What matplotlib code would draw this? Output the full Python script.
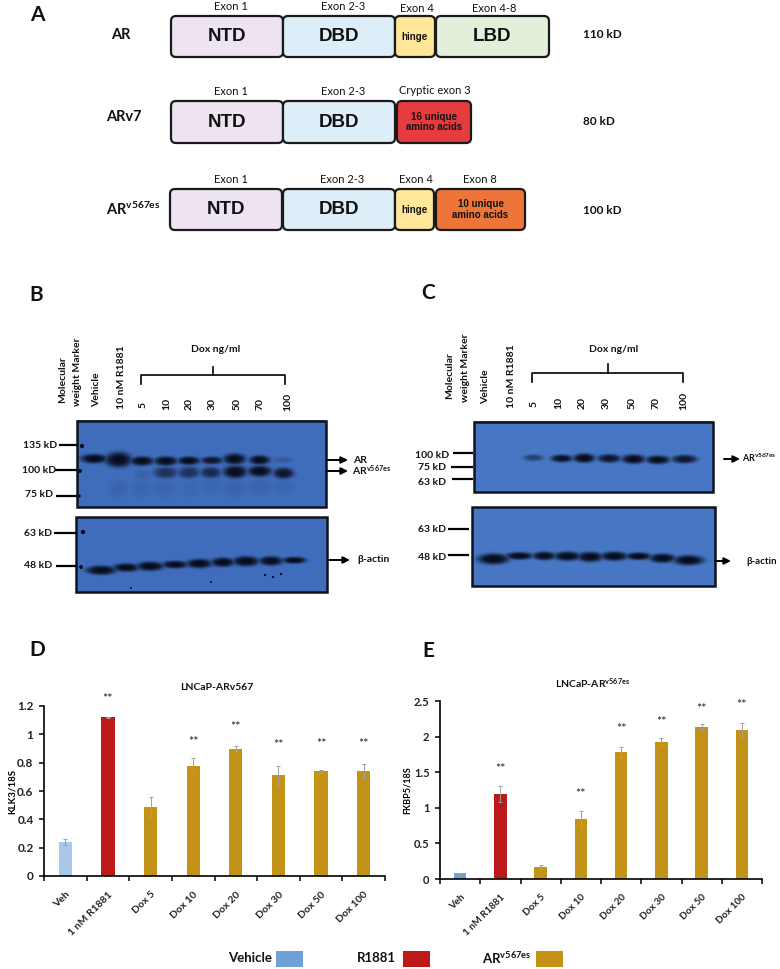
import numpy as np
import matplotlib
matplotlib.use("Agg")
import matplotlib.pyplot as plt
from matplotlib.patches import FancyBboxPatch, Rectangle
from matplotlib.ticker import FixedLocator

plt.rcParams['font.family'] = ['Lato', 'DejaVu Sans']
plt.rcParams['mathtext.default'] = 'regular'

# bar charts
categories = ["Veh", "1 nM R1881", "Dox 5", "Dox 10", "Dox 20", "Dox 30", "Dox 50", "Dox 100"]
klk3 = [0.24, 1.12, 0.49, 0.78, 0.90, 0.71, 0.74, 0.74]
klk3_err = [0.02, 0.005, 0.07, 0.055, 0.02, 0.065, 0.01, 0.05]
klk3_stars = [None, 1.266, None, 0.965, 1.073, 0.944, 0.948, 0.948]
fkbp5 = [0.08, 1.19, 0.17, 0.84, 1.79, 1.93, 2.13, 2.09]
fkbp5_err = [0.01, 0.11, 0.03, 0.11, 0.07, 0.05, 0.04, 0.10]
fkbp5_stars = [None, 1.58, None, 1.23, 2.14, 2.24, 2.42, 2.48]

b_ar_x = [282, 355, 425, 497, 566, 635, 703, 778, 848]
b_ar_y = [567, 570, 574, 574, 573, 572, 568, 571, 571]
b_ar_w = [34, 34, 30, 30, 28, 28, 28, 26, 26]
b_ar_h = [11, 18, 11, 11, 10, 9, 13, 11, 7]
b_ar_d = [1, 1, 1, 1, 1, 0.9, 1, 1, 0.2]
b_v_x = [425, 497, 566, 632, 705, 778, 850]
b_v_y = [615, 608, 608, 608, 606, 604, 610]
b_v_w = [20, 30, 28, 26, 30, 30, 26]
b_v_h = [12, 14, 14, 13, 15, 13, 13]
b_v_d = [0.12, 0.6, 0.6, 0.7, 1, 1, 0.9]
b_smear_x = [355, 425, 497, 566, 635, 705, 778, 850]
b_smear_y = [655, 655, 655, 655, 650, 655, 650, 650]
b_smear_w = [24, 26, 30, 28, 26, 30, 30, 26]
b_smear_h = [22, 22, 22, 22, 22, 22, 22, 18]
b_smear_d = [0.1, 0.07, 0.08, 0.06, 0.07, 0.1, 0.1, 0.08]
b_actin_x = [303, 378, 450, 525, 597, 668, 737, 812, 882]
b_actin_y = [900, 892, 888, 883, 880, 876, 873, 872, 870]
b_actin_w = [38, 33, 35, 33, 33, 30, 33, 30, 30]
b_actin_h = [11, 10, 11, 9, 11, 11, 12, 11, 8]
c_v_x = [400, 485, 552, 627, 700, 773, 853]
c_v_y = [564, 566, 565, 566, 568, 570, 568]
c_v_w = [25, 28, 28, 30, 30, 30, 32]
c_v_h = [8, 9, 11, 10, 11, 10, 10]
c_v_d = [0.5, 0.95, 1, 0.9, 1, 1, 0.9]
c_actin_x = [280, 358, 432, 502, 570, 642, 715, 787, 865]
c_actin_y = [866, 857, 857, 858, 860, 858, 858, 864, 870]
c_actin_w = [40, 35, 30, 35, 33, 35, 33, 33, 38]
c_actin_h = [13, 9, 10, 11, 12, 11, 9, 11, 12]

GOLD = '#C29316'
RED = '#BC1A1A'
BLOT = np.array([0.25, 0.43, 0.74])
INK = np.array([0.03, 0.05, 0.12])

fig = plt.figure(figsize=(7.8, 9.69), dpi=100)
page = fig.add_axes([0, 0, 1, 1])
page.set_xlim(0, 780)
page.set_ylim(969, 0)
page.axis('off')
page.set_autoscale_on(False)


def label(x, y, s, size=7.5, weight='normal', **kw):
    kw.setdefault('ha', 'center')
    kw.setdefault('va', 'center')
    page.text(x, y, s, fontsize=size, fontweight=weight, color='#111111', **kw)


def domain(x0, x1, y0, y1, color, s, size=13.5):
    page.add_patch(FancyBboxPatch((x0 + 5, y0 + 5), x1 - x0 - 10, y1 - y0 - 10, boxstyle='round,pad=5,rounding_size=5',
                                  fc=color, ec='#1a1a1a', lw=1.6))
    page.text((x0 + x1) / 2, (y0 + y1) / 2, s, fontsize=size, fontweight='bold', family='Liberation Sans',
              ha='center', va='center', color='#111111', linespacing=1.05)


def blot(box, lanes, color=BLOT, spots=None):
    # lanes are in the coordinates of a 3x crop with an offset, converted here
    x0, x1, y0, y1 = box
    xs = np.arange(x0, x1, 0.5)
    ys = np.arange(y0, y1, 0.5)
    xx, yy = np.meshgrid(xs, ys)
    dark = np.zeros_like(xx)
    for (ox, lx, ly, lw, lh, ld) in lanes:
        for i in range(len(lx)):
            cx = ox + lx[i] / 3
            cy = 270 + ly[i] / 3
            r = ((xx - cx) / (lw[i] * 1.2 / 3)) ** 2 + ((yy - cy) / (lh[i] * 1.25 / 3)) ** 2
            dark = np.maximum(dark, ld[i] * np.exp(-r ** 1.8))
    img = color + (INK - color) * dark[..., None]
    page.imshow(img, extent=(x0, x1, y1, y0), aspect='auto', interpolation='bilinear', zorder=1)
    page.add_patch(Rectangle((x0, y0), x1 - x0, y1 - y0, fc='none', ec='#10131c', lw=1.8, zorder=2))
    if spots:
        page.scatter([s[0] for s in spots], [s[1] for s in spots], s=[s[2] for s in spots], color=INK,
                     lw=0, zorder=2)


def arrow(x0, x1, y):
    page.annotate('', xy=(x1, y), xytext=(x0, y),
                  arrowprops=dict(arrowstyle='-|>', color='black', lw=1.4, mutation_scale=10, shrinkA=0, shrinkB=0))


def rule(x0, x1, y, lw=1.6):
    page.plot([x0, x1], [y, y], color='black', lw=lw, solid_capstyle='butt', zorder=3)


def bracket(x0, x1, y, top, drop):
    page.plot([x0, x0, x1, x1], [y + drop, y, y, y + drop], color='black', lw=1.2)
    page.plot([(x0 + x1) / 2] * 2, [top, y], color='black', lw=1.2)


# panel letters
for x, y, s in [(37, 15, 'A'), (36, 295, 'B'), (428, 293, 'C'), (37, 650, 'D'), (428, 651, 'E')]:
    label(x, y, s, size=15, weight='bold')

# panel A
domain(171, 283, 16, 57, '#EEE3F0', 'NTD')
domain(283, 395, 16, 57, '#DDEEF8', 'DBD')
domain(395, 435, 16, 57, '#FFE699', 'hinge', 7)
domain(436, 549, 16, 57, '#E2EFDA', 'LBD')
domain(171, 283, 101, 143, '#EEE3F0', 'NTD')
domain(283, 395, 101, 143, '#DDEEF8', 'DBD')
domain(397, 471, 101, 143, '#E63B3F', '16 unique\namino acids', 7)
domain(170, 282, 189, 230, '#EEE3F0', 'NTD')
domain(283, 395, 189, 230, '#DDEEF8', 'DBD')
domain(395, 434, 189, 230, '#FFE699', 'hinge', 7)
domain(436, 525, 189, 230, '#ED7539', '10 unique\namino acids', 7)

for x, y, s in [(231, 6, 'Exon 1'), (343, 6, 'Exon 2-3'), (417, 8, 'Exon 4'), (494, 8, 'Exon 4-8'),
                (231, 91, 'Exon 1'), (343, 91, 'Exon 2-3'), (435, 90, 'Cryptic exon 3'),
                (231, 179, 'Exon 1'), (342, 179, 'Exon 2-3'), (416, 179, 'Exon 4'), (480, 179, 'Exon 8')]:
    label(x, y, s, size=8)
label(121, 35, 'AR', size=10.5, weight='bold')
label(124, 117, 'ARv7', size=10.5, weight='bold')
label(133, 209, 'AR$^{v567es}$', size=10.5, weight='bold')
label(602, 34, '110 kD', size=8.5, weight='bold')
label(599, 121, '80 kD', size=8.5, weight='bold')
label(602, 210, '100 kD', size=8.5, weight='bold')

# panel B
blot((77, 326, 421, 507), [(0, b_smear_x, b_smear_y, b_smear_w, b_smear_h, b_smear_d),
                           (0, b_ar_x, b_ar_y, b_ar_w, b_ar_h, b_ar_d), (0, b_v_x, b_v_y, b_v_w, b_v_h, b_v_d)],
     spots=[(82, 446, 10), (80, 471, 8), (79, 496, 6)])
blot((76, 327, 517, 592), [(0, b_actin_x, b_actin_y, b_actin_w, b_actin_h, [1] * 9)],
     spots=[(83, 532, 10), (81, 567, 8), (265, 575, 3), (273, 577, 3), (281, 574, 3), (211, 582, 2), (131, 588, 2)])
for x, y, s in [(63, 380, 'Molecular'), (77, 372, 'weight Marker'), (97, 390, 'Vehicle'), (121, 377, '10 nM R1881'),
                (143, 405, '5'), (167, 404, '10'), (189, 404, '20'), (212, 404, '30'), (237, 404, '50'),
                (260, 404, '70'), (288, 402, '100')]:
    label(x, y, s, rotation=90, weight='bold', size=7.5)
label(216, 349, 'Dox ng/ml', size=7.5, weight='bold')
bracket(141, 285, 375, 367, 9)
for y, x0, s, sx, sy in [(445, 59, '135 kD', 40, 446), (470, 55, '100 kD', 39, 470), (496, 56, '75 kD', 39, 494),
                         (533, 54, '63 kD', 38, 534), (566, 56, '48 kD', 38, 566)]:
    rule(x0, 77, y)
    label(sx, sy, s, weight='bold', size=7.5)
arrow(326, 348, 460)
arrow(326, 348, 471)
arrow(328, 350, 560)
label(360, 460, 'AR', size=7.5, weight='bold')
label(372, 471, 'AR$^{v567es}$', size=7.5, weight='bold')
label(374, 560, 'β-actin', size=7.5, weight='bold')

# panel C
blot((474, 713, 422, 492), [(400, c_v_x, c_v_y, c_v_w, c_v_h, c_v_d)], color=np.array([0.28, 0.47, 0.77]))
blot((472, 715, 507, 586), [(400, c_actin_x, c_actin_y, c_actin_w, c_actin_h, [1] * 9)],
     color=np.array([0.28, 0.47, 0.77]))
for x, y, s in [(450, 376, 'Molecular'), (465, 368, 'weight Marker'), (486, 387, 'Vehicle'), (511, 376, '10 nM R1881'),
                (534, 404, '5'), (559, 403, '10'), (582, 403, '20'), (606, 403, '30'), (632, 403, '50'),
                (656, 403, '70'), (684, 401, '100')]:
    label(x, y, s, rotation=90, weight='bold', size=7.5)
label(614, 350, 'Dox ng/ml', size=7.5, weight='bold')
bracket(532, 683, 373, 364, 9)
for y, x0, x1, s, sy in [(453, 453, 473, '100 kD', 455), (467, 451, 473, '75 kD', 467), (479, 452, 473, '63 kD', 482),
                         (529, 448, 469, '63 kD', 530), (555, 448, 469, '48 kD', 557)]:
    rule(x0, x1, y)
    label(432, sy, s, weight='bold', size=7.5)
arrow(724, 740, 459)
arrow(715, 731, 561)
label(759, 458, 'AR$^{v567es}$', size=6.5, weight='bold')
label(762, 561, 'β-actin', size=7, weight='bold')


def bars(rect, values, errs, stars, ymax, yticks, ticklabels, ylabel, veh_color, size, labelpad):
    ax = fig.add_axes([rect[0] / 780, 1 - rect[3] / 969, (rect[1] - rect[0]) / 780, (rect[3] - rect[2]) / 969])
    ax.patch.set_alpha(0)
    x = np.arange(len(values)) + 0.5
    colors = [veh_color, RED] + [GOLD] * (len(values) - 2)
    ax.bar(x, values, width=0.31, color=colors, yerr=errs,
           error_kw=dict(ecolor='#a0a0a0', elinewidth=0.7, capsize=1.5, capthick=0.7))
    for xi, s in zip(x, stars):
        if s is not None:
            ax.annotate('**', (xi, s), xytext=(0, -2), textcoords='offset points', ha='center', va='center',
                        fontsize=9, color='#222222', annotation_clip=False)
    ax.set_xlim(0, len(values))
    ax.set_ylim(0, ymax)
    ax.xaxis.set_major_locator(FixedLocator(np.arange(len(values) + 1)))
    ax.xaxis.set_minor_locator(FixedLocator(x))
    ax.set_xticklabels([])
    ax.set_xticklabels(categories, minor=True, rotation=45, ha='right', rotation_mode='anchor',
                       fontsize=size, fontweight='bold', color='#222222')
    ax.tick_params(axis='x', which='minor', length=0, pad=10)
    ax.tick_params(axis='x', which='major', length=3.5, width=1.1)
    ax.set_yticks(yticks)
    ax.set_yticklabels(ticklabels, fontsize=size + 1, fontweight='bold', color='#222222')
    ax.tick_params(axis='y', length=3.5, width=1.1, pad=4)
    ax.set_ylabel(ylabel, fontsize=size - 0.5, fontweight='bold', labelpad=labelpad)
    for side in ['top', 'right']:
        ax.spines[side].set_visible(False)
    for side in ['left', 'bottom']:
        ax.spines[side].set_linewidth(1.2)
    return ax


bars((44, 385, 706, 876), klk3, klk3_err, klk3_stars, 1.2, [0, 0.2, 0.4, 0.6, 0.8, 1, 1.2],
     ['0', '0.2', '0.4', '0.6', '0.8', '1', '1.2'], 'KLK3/18S', '#A9C8E8', 7.5, 0)
bars((440, 762, 701, 879), fkbp5, fkbp5_err, fkbp5_stars, 2.5, [0, 0.5, 1, 1.5, 2, 2.5],
     ['0', '0.5', '1', '1.5', '2', '2.5'], 'FKBP5/18S', '#6FA1D8', 7, 1.5)
label(217, 687, 'LNCaP-ARv567', size=7.5, weight='bold')
label(593, 684, 'LNCaP-AR$^{v567es}$', size=7.5, weight='bold')

# legend
for x0, color, s, tx in [(276, '#6FA1D8', 'Vehicle', 250), (403, RED, 'R1881', 376), (536, GOLD, 'AR$^{v567es}$', 507)]:
    page.add_patch(Rectangle((x0, 951), 27, 16, fc=color, ec='none'))
    label(tx, 958, s, size=9.5, weight='bold')

fig.savefig('out.png', dpi=100)
